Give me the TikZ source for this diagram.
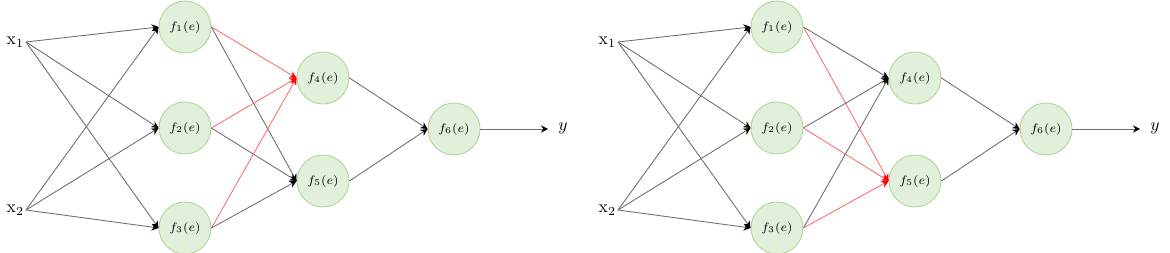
\documentclass[tikz,border=0pt]{standalone}
\usepackage{amsmath,amssymb}
\usepackage{tikz}
\usepackage{xcolor}
\usetikzlibrary{arrows.meta}

\definecolor{nodefill}{RGB}{226,239,218}
\definecolor{nodeline}{RGB}{175,214,150}
\definecolor{wiregray}{RGB}{110,110,110}
\definecolor{wirered}{RGB}{255,110,110}

\begin{document}
\begin{tikzpicture}[x=0.02cm,y=-0.02cm,every node/.style={font=\scriptsize},
  neuron/.style={circle,fill=nodefill,draw=nodeline,line width=0.5pt,minimum size=1.04cm,inner sep=0pt},
  inlabel/.style={font=\normalsize,anchor=east,inner sep=1pt},
  wire/.style={draw=wiregray,line width=0.5pt,-{Stealth[length=4pt,width=4pt,black]}},
  hot/.style={draw=wirered,line width=0.5pt,-{Stealth[length=4pt,width=4pt,red]}}]
\useasboundingbox (0,0) rectangle (1170,253);

% left network
\node[inlabel] (ax1) at (26,42) {$\mathrm{x}_1$};
\node[inlabel] (ax2) at (26,210) {$\mathrm{x}_2$};
\node[neuron] (af1) at (185,27) {$f_1(e)$};
\node[neuron] (af2) at (185,128) {$f_2(e)$};
\node[neuron] (af3) at (185,228) {$f_3(e)$};
\node[neuron] (af4) at (323,78) {$f_4(e)$};
\node[neuron] (af5) at (323,181) {$f_5(e)$};
\node[neuron] (af6) at (454,129) {$f_6(e)$};
\coordinate (ayend) at (548,129);
\node[font=\normalsize] (ay) at (563,128) {$y$};

\foreach \i in {ax1,ax2} {
  \foreach \j in {af1,af2,af3} {
    \draw[wire] (\i.east) -- (\j.west);
  }
}
\foreach \j in {af1,af2,af3} {
  \draw[hot] (\j.east) -- (af4.west);
  \draw[wire] (\j.east) -- (af5.west);
}
\draw[wire] (af4.east) -- (af6.west);
\draw[wire] (af5.east) -- (af6.west);
\draw[wire] (af6.east) -- (ayend);

% right network
\node[inlabel] (bx1) at (618,42) {$\mathrm{x}_1$};
\node[inlabel] (bx2) at (618,210) {$\mathrm{x}_2$};
\node[neuron] (bf1) at (777,27) {$f_1(e)$};
\node[neuron] (bf2) at (777,128) {$f_2(e)$};
\node[neuron] (bf3) at (777,228) {$f_3(e)$};
\node[neuron] (bf4) at (915,78) {$f_4(e)$};
\node[neuron] (bf5) at (915,181) {$f_5(e)$};
\node[neuron] (bf6) at (1046,129) {$f_6(e)$};
\coordinate (byend) at (1140,129);
\node[font=\normalsize] (by) at (1155,128) {$y$};

\foreach \i in {bx1,bx2} {
  \foreach \j in {bf1,bf2,bf3} {
    \draw[wire] (\i.east) -- (\j.west);
  }
}
\foreach \j in {bf1,bf2,bf3} {
  \draw[wire] (\j.east) -- (bf4.west);
  \draw[hot] (\j.east) -- (bf5.west);
}
\draw[wire] (bf4.east) -- (bf6.west);
\draw[wire] (bf5.east) -- (bf6.west);
\draw[wire] (bf6.east) -- (byend);
\end{tikzpicture}
\end{document}
